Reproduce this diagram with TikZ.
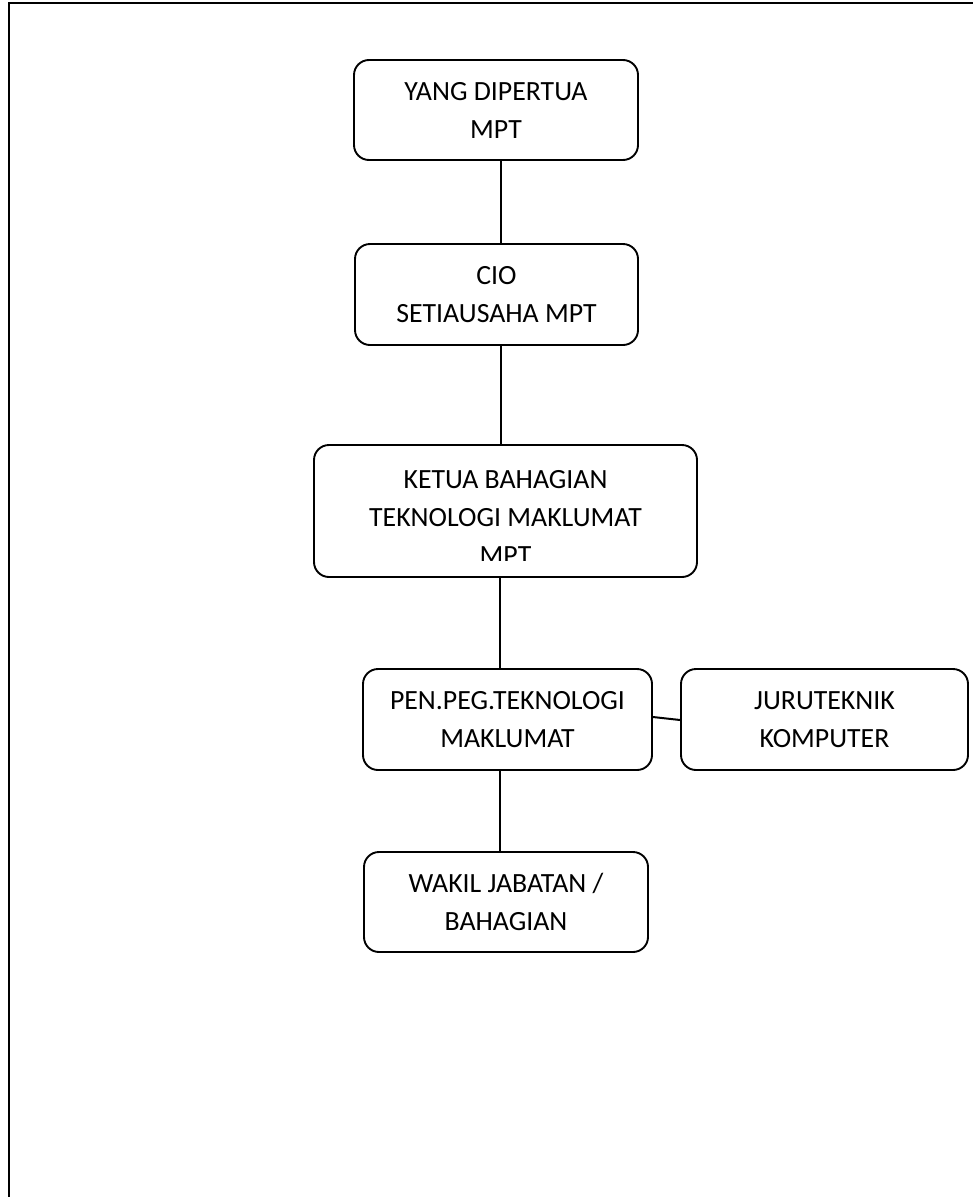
\documentclass[tikz,border=0pt]{standalone}
\usepackage{fontspec}
\setmainfont{Carlito}
\begin{document}
\begin{tikzpicture}[x=1pt,y=-1pt,
  orgbox/.style={draw, rounded corners=15pt, line width=1.9pt, align=center, inner sep=0pt,
    font=\fontsize{27.8}{38}\selectfont},
  link/.style={line width=2pt},
  frameline/.style={line width=2pt}]
\useasboundingbox (0,0) rectangle (973,1197);
% outer frame (partly outside the page)
\draw[frameline] (9,1197) -- (9,3) -- (973,3);
% boxes
\node[orgbox, minimum width=284pt, minimum height=100pt] (b1) at (496,110) {YANG DIPERTUA\\MPT};
\node[orgbox, minimum width=283pt, minimum height=101pt] (b2) at (496.5,294.5) {CIO\\SETIAUSAHA MPT};
\node[orgbox, minimum width=383pt, minimum height=132pt] (b3) at (505.5,511) {};
\begin{scope}
  \clip (314,445) rectangle (697,560.5);
  \node[align=center, inner sep=0pt, font=\fontsize{27.8}{38}\selectfont] (t3) at (505.5,517.5) {KETUA BAHAGIAN\\TEKNOLOGI MAKLUMAT\\MPT};
\end{scope}
\node[orgbox, minimum width=289pt, minimum height=101pt] (b4) at (507.5,719.5) {PEN.PEG.TEKNOLOGI\\MAKLUMAT};
\node[orgbox, minimum width=287pt, minimum height=101pt] (b5) at (824.5,719.5) {JURUTEKNIK\\KOMPUTER};
\node[orgbox, minimum width=284pt, minimum height=100pt] (b6) at (506,902) {WAKIL JABATAN /\\BAHAGIAN};
% connectors
\draw[link] ([xshift=5pt]b1.south) -- ([xshift=4.5pt]b2.north);
\draw[link] ([xshift=4.5pt]b2.south) -- ([xshift=-4.5pt]b3.north);
\draw[link] ([xshift=-5.5pt]b3.south) -- ([xshift=-7.5pt]b4.north);
\draw[link] ([xshift=-7.5pt]b4.south) -- ([xshift=-6pt]b6.north);
\draw[link] ([yshift=2.5pt]b4.east) -- ([yshift=-0.5pt]b5.west);
\end{tikzpicture}
\end{document}
